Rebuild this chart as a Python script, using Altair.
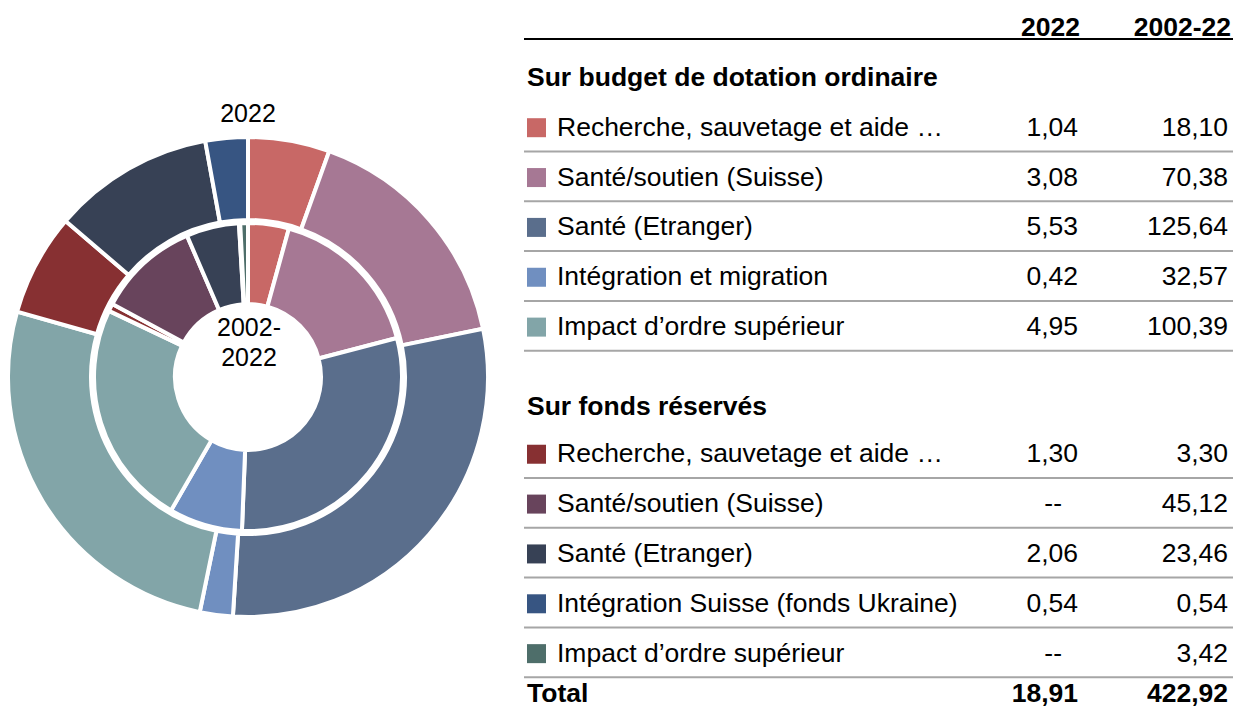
import altair as alt
import pandas as pd

# ---------------- data ----------------
ord_labels = ["Recherche, sauvetage et aide …", "Santé/soutien (Suisse)", "Santé (Etranger)",
              "Intégration et migration", "Impact d’ordre supérieur"]
res_labels = ["Recherche, sauvetage et aide …", "Santé/soutien (Suisse)", "Santé (Etranger)",
              "Intégration Suisse (fonds Ukraine)", "Impact d’ordre supérieur"]
ord_2022 = [1.04, 3.08, 5.53, 0.42, 4.95]
ord_0222 = [18.10, 70.38, 125.64, 32.57, 100.39]
res_2022 = [1.30, None, 2.06, 0.54, None]
res_0222 = [3.30, 45.12, 23.46, 0.54, 3.42]
ord_colors = ["#C86866", "#A67894", "#5A6E8C", "#708FC0", "#82A5A8"]
res_colors = ["#873032", "#68445C", "#374155", "#375582", "#4E6E6A"]
total_2022 = 18.91
total_0222 = 422.92
section_titles = ["Sur budget de dotation ordinaire", "Sur fonds réservés"]
col_titles = ["2022", "2002-22"]
ring_titles = ["2022", "2002-\n2022"]

FONT = "Liberation Sans"
W, H = 1225, 700
CX, CY = 240, 369


def fmt(v):
    return "--" if v is None else f"{v:.2f}".replace(".", ",")


keys = [f"o{i}" for i in range(5)] + [f"r{i}" for i in range(5)]
colors = ord_colors + res_colors

pie_df = pd.DataFrame({
    "key": keys,
    "idx": list(range(10)),
    "v2022": [v if v is not None else 0 for v in ord_2022 + res_2022],
    "v0222": ord_0222 + res_0222,
})

color_enc = alt.Color("key:N", scale=alt.Scale(domain=keys, range=colors), legend=None)

outer = alt.Chart(pie_df).transform_filter("datum.v2022 > 0").mark_arc(
    x=CX, y=CY, outerRadius=240, innerRadius=157, stroke="white", strokeWidth=4, strokeJoin="round"
).encode(
    theta=alt.Theta("v2022:Q", stack=True),
    order=alt.Order("idx:Q"),
    color=color_enc,
)

inner = alt.Chart(pie_df).transform_filter("datum.v0222 > 0").mark_arc(
    x=CX, y=CY, outerRadius=154, innerRadius=73, stroke="white", strokeWidth=4, strokeJoin="round"
).encode(
    theta=alt.Theta("v0222:Q", stack=True),
    order=alt.Order("idx:Q"),
    color=color_enc,
)

ring_lab_outer = alt.Chart(pd.DataFrame({"t": [ring_titles[0]]})).mark_text(
    font=FONT, fontSize=25, color="black", align="center", baseline="middle"
).encode(text="t:N", x=alt.value(CX), y=alt.value(106))

ring_lab_inner = alt.Chart(pd.DataFrame({"t": [ring_titles[1]]})).mark_text(
    font=FONT, fontSize=25, color="black", align="center", baseline="middle",
    lineBreak="\n", lineHeight=30
).encode(text="t:N", x=alt.value(CX + 1), y=alt.value(320))

# ---------------- table ----------------
rows = []
slot = 2
for lbls, a, b, pre in [(ord_labels, ord_2022, ord_0222, "o"), (res_labels, res_2022, res_0222, "r")]:
    for i in range(5):
        rows.append({"slot": slot, "label": lbls[i], "c1": fmt(a[i]), "c2": fmt(b[i]),
                     "key": f"{pre}{i}", "dash": a[i] is None})
        slot += 1
    slot += 1.55  # gap + section title for the next block
row_df = pd.DataFrame(rows)

sect_df = pd.DataFrame({"slot": [1, 7.6], "label": section_titles})
total_df = pd.DataFrame({"slot": [13.36], "label": ["Total"], "c1": [fmt(total_2022)], "c2": [fmt(total_0222)]})
head_df = pd.DataFrame({"slot": [0], "c1": [col_titles[0]], "c2": [col_titles[1]]})
hline_df = pd.DataFrame({"slot": [0.22]})
rline_df = pd.DataFrame({"slot": [s + 0.475 for s in row_df["slot"]]})

yenc = alt.Y("slot:Q", scale=alt.Scale(domain=[0, 13.5], range=[20, 693]), axis=None)

squares = alt.Chart(row_df).mark_square(size=361, opacity=1).encode(
    x=alt.value(528.5), y=yenc, color=color_enc)

txt = dict(font=FONT, fontSize=26.5, color="black", baseline="middle")

row_labels = alt.Chart(row_df).mark_text(align="left", **txt).encode(
    x=alt.value(549), y=yenc, text="label:N")
row_c1 = alt.Chart(row_df).transform_filter("!datum.dash").mark_text(align="right", **txt).encode(
    x=alt.value(1070), y=yenc, text="c1:N")
row_dash = alt.Chart(row_df).transform_filter("datum.dash").mark_text(align="right", **txt).encode(
    x=alt.value(1054), y=yenc, text="c1:N")
row_c2 = alt.Chart(row_df).mark_text(align="right", **txt).encode(
    x=alt.value(1220), y=yenc, text="c2:N")

sect = alt.Chart(sect_df).mark_text(align="left", fontWeight="bold", **txt).encode(
    x=alt.value(519), y=yenc, text="label:N")
tot_lab = alt.Chart(total_df).mark_text(align="left", fontWeight="bold", **txt).encode(
    x=alt.value(519), y=yenc, text="label:N")
tot_c1 = alt.Chart(total_df).mark_text(align="right", fontWeight="bold", **txt).encode(
    x=alt.value(1070), y=yenc, text="c1:N")
tot_c2 = alt.Chart(total_df).mark_text(align="right", fontWeight="bold", **txt).encode(
    x=alt.value(1220), y=yenc, text="c2:N")
head_c1 = alt.Chart(head_df).mark_text(align="right", fontWeight="bold", **txt).encode(
    x=alt.value(1072), y=yenc, text="c1:N")
head_c2 = alt.Chart(head_df).mark_text(align="right", fontWeight="bold", **txt).encode(
    x=alt.value(1223), y=yenc, text="c2:N")

head_line = alt.Chart(hline_df).mark_rule(color="black", strokeWidth=2).encode(
    x=alt.value(516), x2=alt.value(1233), y=yenc)
row_lines = alt.Chart(rline_df).mark_rule(color="#A6A6A6", strokeWidth=2).encode(
    x=alt.value(516), x2=alt.value(1233), y=yenc)

chart = alt.layer(
    outer, inner, ring_lab_outer, ring_lab_inner,
    head_line, row_lines, squares, row_labels, row_c1, row_dash, row_c2,
    sect, tot_lab, tot_c1, tot_c2, head_c1, head_c2,
).resolve_scale(theta="independent").properties(
    width=W, height=H, padding=0, autosize="none"
).configure_view(stroke=None)

chart.save("out.html", embed_options={"renderer": "svg", "actions": False})
